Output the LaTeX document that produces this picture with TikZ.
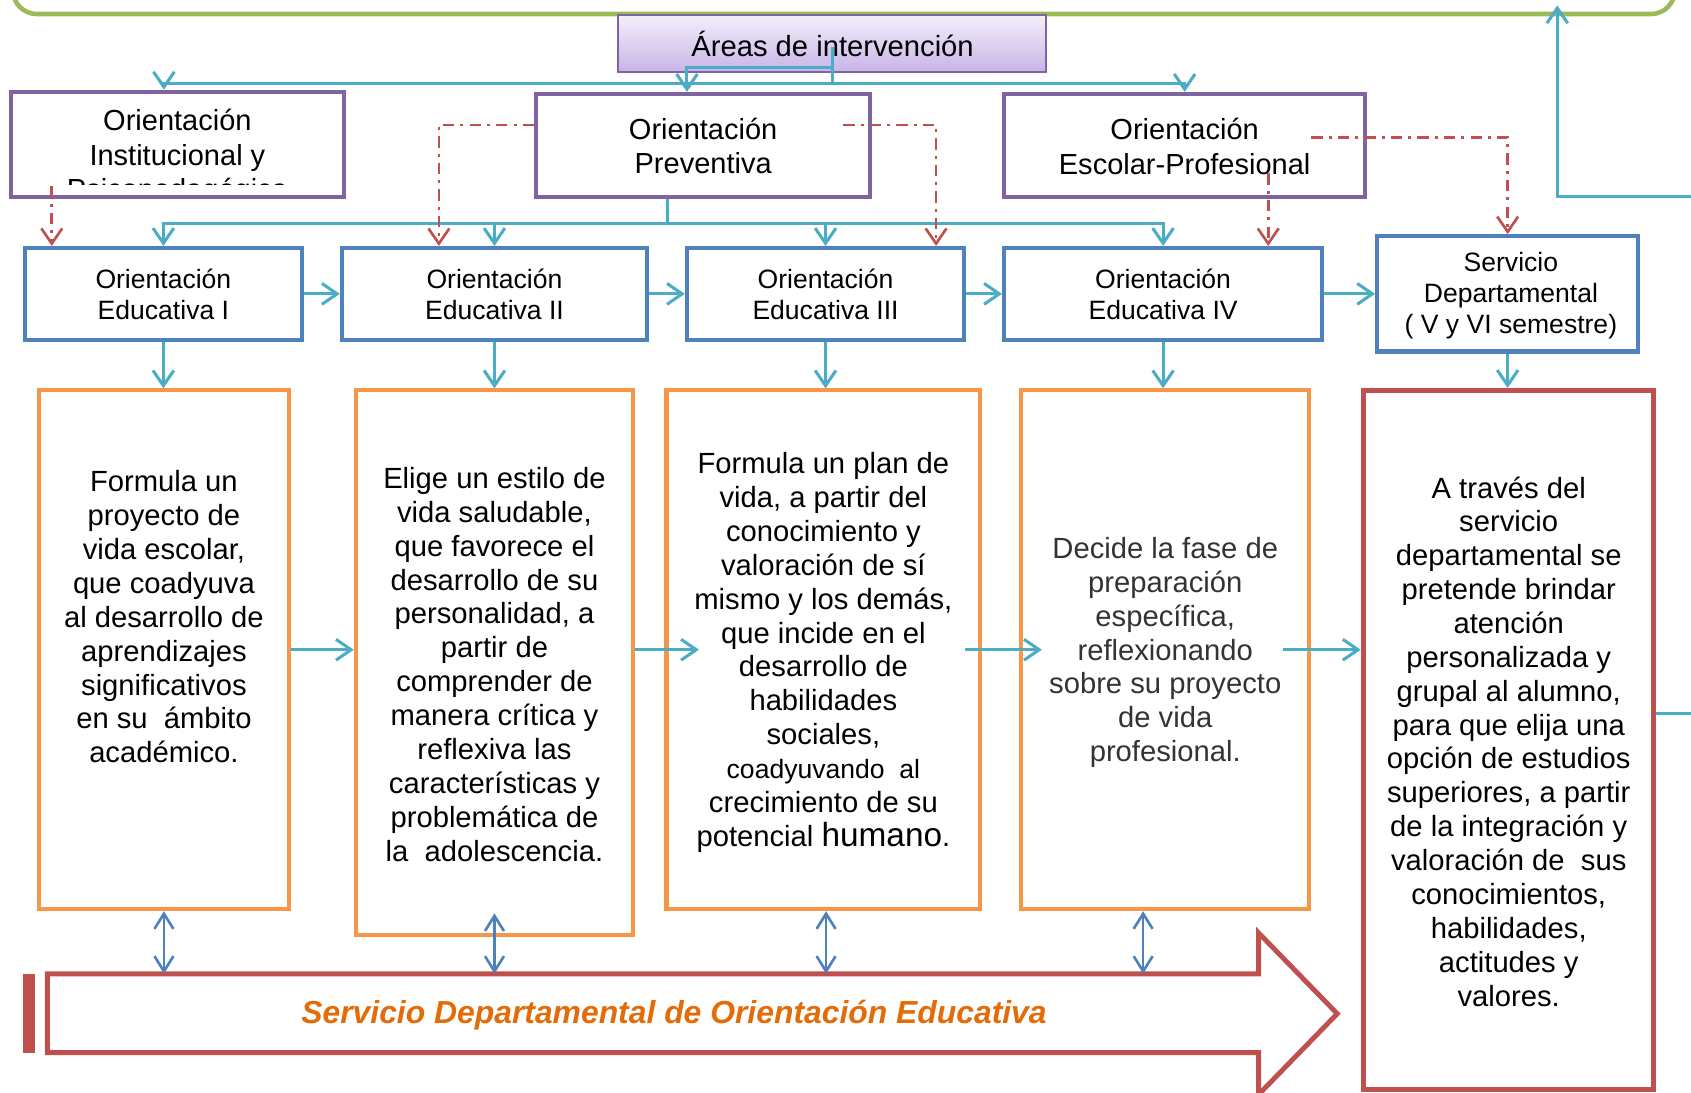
\documentclass[tikz,border=0pt]{standalone}
\usepackage{fontspec}
\setmainfont{Liberation Sans}
\usetikzlibrary{arrows.meta,fit,calc}
\definecolor{cGreen}{HTML}{9BBB59}
\definecolor{cPurple}{HTML}{8064A2}
\definecolor{cBlue}{HTML}{4F81BD}
\definecolor{cCyan}{HTML}{4BACC6}
\definecolor{cOrange}{HTML}{F79646}
\definecolor{cRed}{HTML}{C0504D}
\definecolor{cText}{HTML}{E36C09}
\definecolor{cLavTop}{HTML}{F3EEFA}
\definecolor{cLavBot}{HTML}{C8B4E6}
\begin{document}
\begin{tikzpicture}[x=0.01cm,y=-0.01cm,
  pbox/.style={draw=cPurple,line width=1.05pt,fill=white,inner sep=0pt},
  bbox/.style={draw=cBlue,line width=1.1pt,fill=white,inner sep=0pt},
  obox/.style={draw=cOrange,line width=1.1pt,fill=white,inner sep=0pt},
  rbox/.style={draw=cRed,line width=1.3pt,fill=white,inner sep=0pt},
  txt/.style={align=center,inner sep=0pt},
  ttop/.style={txt,font=\fontsize{7.65}{9.1}\selectfont},
  tedu/.style={txt,font=\fontsize{7.0}{8.2}\selectfont},
  tbody/.style={txt,font=\fontsize{7.7}{8.93}\selectfont},
  cyanline/.style={draw=cCyan,line width=0.8pt},
  cyanarrow/.style={cyanline,-{Straight Barb[length=4pt,width=5.5pt]}},
  redarrow/.style={draw=cRed,line width=0.7pt,dash pattern=on 3pt off 1.6pt on 0.8pt off 1.6pt,-{Straight Barb[length=4pt,width=5.5pt]}},
  dblarrow/.style={draw=cBlue,line width=0.7pt,{Straight Barb[length=4pt,width=5pt]}-{Straight Barb[length=4pt,width=5pt]}},
]
\clip (0,0) rectangle (1568,1013);

% green frame (top, cut by the page)
\draw[cGreen,line width=1.2pt,rounded corners=0.22cm] (12,-80) -- (12,13) -- (1553,13) -- (1553,-80);

% Areas de intervencion
\node[fit={(573,14)(970,67)},draw=cPurple,line width=0.6pt,top color=cLavTop,bottom color=cLavBot,inner sep=0pt] (areas) {};
\node[txt,font=\fontsize{7.7}{9}\selectfont] (areast) at (772,40.5) {Áreas de intervención};

% top purple boxes
\node[pbox,fit={(10,85)(319,183)}] (inst) {};
\node[pbox,fit={(497,87)(807,183)}] (prev) {};
\node[pbox,fit={(931,87)(1266,183)}] (esc) {};
\begin{scope}
\clip (14,89) rectangle (315,171);
\node[ttop] (instt) at (164.5,146) {Orientación\\Institucional y\\Psicopedagógica};
\end{scope}
\node[ttop] (prevt) at (652,135.5) {Orientación\\Preventiva};
\node[ttop] (esct) at (1098.5,136) {Orientación\\Escolar-Profesional};

% blue row
\node[bbox,fit={(23,230)(280,315)}] (oe1) {};
\node[bbox,fit={(317,230)(600,315)}] (oe2) {};
\node[bbox,fit={(637,230)(894,315)}] (oe3) {};
\node[bbox,fit={(931,230)(1226,315)}] (oe4) {};
\node[bbox,fit={(1277,219)(1519,326)}] (serv) {};
\node[tedu] (oe1t) at (151.5,273) {Orientación\\Educativa I};
\node[tedu] (oe2t) at (458.5,273) {Orientación\\Educativa II};
\node[tedu] (oe3t) at (765.5,273) {Orientación\\Educativa III};
\node[tedu] (oe4t) at (1078.5,273) {Orientación\\Educativa IV};
\node[tedu] (servt) at (1401,274) {Servicio\\Departamental\\( V y VI semestre)};

% content boxes
\node[obox,fit={(36,362)(268,843)}] (o1) {};
\node[obox,fit={(330,362)(587,867)}] (o2) {};
\node[obox,fit={(618,362)(909,843)}] (o3) {};
\node[obox,fit={(947,362)(1214,843)}] (o4) {};
\node[rbox,fit={(1264,362)(1533,1010)}] (o5) {};

\node[tbody] (o1t) at (152,572) {Formula un\\proyecto de\\vida escolar,\\que coadyuva\\al desarrollo de\\aprendizajes\\significativos\\en su~ ámbito\\académico.};
\node[tbody] (o2t) at (458.5,616) {Elige un estilo de\\vida saludable,\\que favorece el\\desarrollo de su\\personalidad, a\\partir de\\comprender de\\manera crítica y\\reflexiva las\\características y\\problemática de\\la~ adolescencia.};
\node[tbody] (o3t) at (763.5,605) {Formula un plan de\\vida, a partir del\\conocimiento y\\valoración de sí\\mismo y los demás,\\que incide en el\\desarrollo de\\habilidades\\sociales,\\{\fontsize{7.0}{8.93}\selectfont coadyuvando~ al}\\crecimiento de su\\potencial {\fontsize{8.8}{8.93}\selectfont humano}.};
\node[tbody,text=black!80] (o4t) at (1080.5,605) {Decide la fase de\\preparación\\específica,\\reflexionando\\sobre su proyecto\\de vida\\profesional.};
\node[tbody] (o5t) at (1399,687.5) {A través del\\servicio\\departamental se\\pretende brindar\\atención\\personalizada y\\grupal al alumno,\\para que elija una\\opción de estudios\\superiores, a partir\\de la integración y\\valoración de~ sus\\conocimientos,\\habilidades,\\actitudes y\\valores.};

% bottom striped block arrow
\fill[cRed] (21,903) rectangle (32,976);
\draw[cRed,line width=1.3pt,fill=white] (44,903) -- (1167,903) -- (1167,865) -- (1240,940) -- (1167,1015) -- (1167,976) -- (44,976) -- cycle;
\coordinate (bandtop) at (0,903);
\node[font=\fontsize{8.4}{10}\selectfont\bfseries\itshape,text=cText] (bandt) at (625,941) {Servicio Departamental de Orientación Educativa};

% connectors from Areas
\coordinate (aStart) at (772,44);
\coordinate (aJoin) at (772,77);
\draw[cyanline] (aStart) -- (aJoin);
\draw[cyanarrow] (aJoin) -| ($(inst.north)+(-12.5,0)$);
\draw[cyanarrow] (aJoin) -| (esc.north);
\draw[cyanarrow] (772,63) -| ($(prev.north)+(-15,0)$);

% from Preventiva
\coordinate (pJoin) at (619,207);
\draw[cyanline] ($(prev.south)+(-33,0)$) -- (pJoin);
\foreach \n in {oe1,oe2,oe3,oe4} \draw[cyanarrow] (pJoin) -| (\n.north);

% blue row horizontal
\draw[cyanarrow] (oe1.east) -- (oe2.west);
\draw[cyanarrow] (oe2.east) -- (oe3.west);
\draw[cyanarrow] (oe3.east) -- (oe4.west);
\draw[cyanarrow] (oe4.east) -- (serv.west);

% blue row down
\draw[cyanarrow] (oe1.south) -- (oe1.south |- o1.north);
\draw[cyanarrow] (oe2.south) -- (oe2.south |- o2.north);
\draw[cyanarrow] (oe3.south) -- (oe3.south |- o3.north);
\draw[cyanarrow] (oe4.south) -- (oe4.south |- o4.north);
\draw[cyanarrow] (serv.south) -- (serv.south |- o5.north);

% content row horizontal
\draw[cyanarrow] (o1.east) -- (o2.west |- o1.east);
\draw[cyanarrow] (o2.east |- o1.east) -- ($(o3.west |- o1.east)+(32,0)$);
\draw[cyanarrow] ($(o3.east)+(-16,0)$) -- ($(o4.west)+(21,0)$);
\draw[cyanarrow] ($(o4.east)+(-26,0)$) -- (o5.west |- o4.east);

% red dash-dot connectors
\coordinate (r1) at ($(inst.south)+(-116.5,-12)$);
\draw[redarrow] (r1) -- (r1 |- oe1.north);
\draw[redarrow] ($(prev.west)+(0,-19)$) -| ($(oe2.north)+(-51.5,0)$);
\draw[redarrow] ($(prev.east)+(-27,-19)$) -| ($(oe3.north)+(102.5,0)$);
\draw[redarrow] ($(esc.east)+(-52,-7.5)$) -| (serv.north);
\coordinate (r5) at ($(esc.south)+(77.5,-24)$);
\draw[redarrow] (r5) -- (r5 |- oe4.north);

% double arrows to the band
\draw[dblarrow] (o1.south) -- (o1.south |- bandtop);
\draw[dblarrow] ($(o2.south)+(0,-22)$) -- (o2.south |- bandtop);
\draw[dblarrow] ($(o3.south)+(2.5,0)$) -- ($(o3.south |- bandtop)+(2.5,0)$);
\draw[dblarrow] ($(o4.south)+(-20.5,0)$) -- ($(o4.south |- bandtop)+(-20.5,0)$);

% right side connectors leaving the page
\coordinate (offR1) at (1570,182);
\coordinate (gtip) at (1444,5);
\draw[cyanarrow] (offR1) -| (gtip);
\coordinate (offR2) at (1570,662);
\draw[cyanline] ($(o5.east)+(0,-24)$) -- (offR2);
\end{tikzpicture}
\end{document}
